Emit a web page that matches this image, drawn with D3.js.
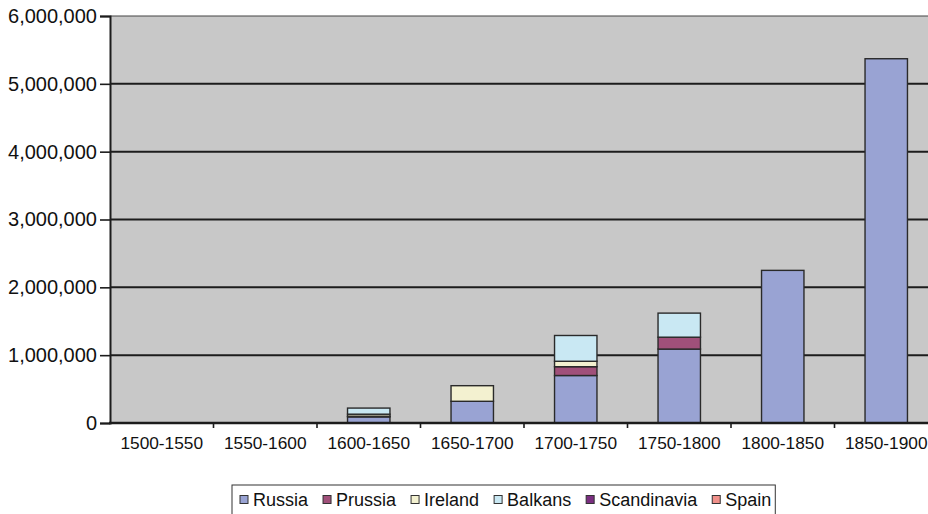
<!DOCTYPE html>
<html>
<head>
<meta charset="utf-8">
<script src="https://cdn.jsdelivr.net/npm/d3@7"></script>
<style>
  body { margin: 0; background: #fff; }
  svg { display: block; font-family: "Liberation Sans", Arial, sans-serif; }
</style>
</head>
<body>
<div id="chart"></div>
<script>
// data
var periods = ["1500-1550", "1550-1600", "1600-1650", "1650-1700", "1700-1750", "1750-1800", "1800-1850", "1850-1900"];
var russia      = [0, 0, 90000, 320000, 700000, 1090000, 2250000, 5370000];
var prussia     = [0, 0, 10000, 0, 130000, 175000, 0, 0];
var ireland     = [0, 0, 30000, 230000, 80000, 0, 0, 0];
var balkans     = [0, 0, 90000, 0, 380000, 355000, 0, 0];
var scandinavia = [0, 0, 0, 0, 0, 0, 0, 0];
var spain       = [0, 0, 0, 0, 0, 0, 0, 0];
var seriesNames = ["Russia", "Prussia", "Ireland", "Balkans", "Scandinavia", "Spain"];
var yTicks = [0, 1000000, 2000000, 3000000, 4000000, 5000000, 6000000];

var colors = ["#99a3d3", "#a0507a", "#f3f1d0", "#c9e8f3", "#7a2e80", "#f0908a"];

var svgWidth = 928;
var svgHeight = 514;
var plot = { left: 110, top: 16, right: 938, bottom: 423 };

var svg = d3.select("#chart")
  .append("svg")
  .attr("width", svgWidth)
  .attr("height", svgHeight);

// build table for the stack
var table = periods.map(function(p, i) {
  return {
    period: p,
    Russia: russia[i], Prussia: prussia[i], Ireland: ireland[i],
    Balkans: balkans[i], Scandinavia: scandinavia[i], Spain: spain[i]
  };
});
var stacked = d3.stack().keys(seriesNames)(table);

var x = d3.scaleBand()
  .domain(periods)
  .range([plot.left, plot.right])
  .padding(0);

var y = d3.scaleLinear()
  .domain([0, 6000000])
  .range([plot.bottom, plot.top]);

// plot background
svg.append("rect")
  .attr("x", plot.left)
  .attr("y", plot.top)
  .attr("width", plot.right - plot.left)
  .attr("height", plot.bottom - plot.top)
  .attr("fill", "#c8c8c8");

// gridlines
svg.append("g")
  .selectAll("line")
  .data(yTicks.filter(function(d) { return d > 0 && d < 6000000; }))
  .enter()
  .append("line")
  .attr("x1", plot.left)
  .attr("x2", plot.right)
  .attr("y1", function(d) { return y(d); })
  .attr("y2", function(d) { return y(d); })
  .attr("stroke", "#1c1c1c")
  .attr("stroke-width", 2);

// top border
svg.append("line")
  .attr("x1", plot.left).attr("x2", plot.right)
  .attr("y1", y(6000000)).attr("y2", y(6000000))
  .attr("stroke", "#444")
  .attr("stroke-width", 1.2);

// bars
var barW = x.bandwidth() * 0.41;
svg.append("g")
  .selectAll("g")
  .data(stacked)
  .enter()
  .append("g")
  .attr("fill", function(d, i) { return colors[i]; })
  .selectAll("rect")
  .data(function(d) { return d.filter(function(s) { return s[1] - s[0] > 0; }); })
  .enter()
  .append("rect")
  .attr("x", function(d) { return x(d.data.period) + (x.bandwidth() - barW) / 2; })
  .attr("y", function(d) { return y(d[1]); })
  .attr("width", barW)
  .attr("height", function(d) { return y(d[0]) - y(d[1]); })
  .attr("stroke", "#2a2a2a")
  .attr("stroke-width", 1.4);

// y axis
var leftAxis = d3.axisLeft(y)
  .tickValues(yTicks)
  .tickFormat(d3.format(","))
  .tickSize(10)
  .tickPadding(3);

var yAxis = svg.append("g")
  .attr("transform", "translate(" + plot.left + ",0)")
  .call(leftAxis);
yAxis.select(".domain").attr("stroke", "#1c1c1c").attr("stroke-width", 2);
yAxis.selectAll(".tick line").attr("stroke", "#1c1c1c").attr("stroke-width", 1.6);
yAxis.selectAll("text")
  .attr("fill", "#111")
  .style("font-size", "20px")
  .style("font-family", "'Liberation Sans', Arial, sans-serif");

// x axis: labels at centres, ticks at category boundaries
var bottomAxis = d3.axisBottom(x).tickSize(0).tickPadding(14);
var xAxis = svg.append("g")
  .attr("transform", "translate(0," + plot.bottom + ")")
  .call(bottomAxis);
xAxis.select(".domain").remove();
xAxis.selectAll("text")
  .attr("fill", "#111")
  .style("font-size", "17.3px")
  .style("font-family", "'Liberation Sans', Arial, sans-serif");

svg.append("g")
  .selectAll("line")
  .data(periods.slice(1))
  .enter()
  .append("line")
  .attr("x1", function(d) { return x(d); })
  .attr("x2", function(d) { return x(d); })
  .attr("y1", plot.bottom)
  .attr("y2", plot.bottom + 5)
  .attr("stroke", "#1c1c1c")
  .attr("stroke-width", 1.6);

svg.append("line")
  .attr("x1", plot.left - 1).attr("x2", plot.right)
  .attr("y1", plot.bottom).attr("y2", plot.bottom)
  .attr("stroke", "#1c1c1c")
  .attr("stroke-width", 2.5);

// legend
var legend = svg.append("g");
var legendBox = legend.append("rect")
  .attr("y", 485)
  .attr("height", 40)
  .attr("fill", "#fff")
  .attr("stroke", "#333")
  .attr("stroke-width", 1);

var gap = 15;
var cursor = 0;
var items = legend.append("g");
seriesNames.forEach(function(name, i) {
  var item = items.append("g").attr("transform", "translate(" + cursor + ",0)");
  item.append("rect")
    .attr("x", 0)
    .attr("y", 495.5)
    .attr("width", 8)
    .attr("height", 8)
    .attr("fill", colors[i])
    .attr("stroke", "#333")
    .attr("stroke-width", 1);
  var t = item.append("text")
    .attr("x", 13)
    .attr("y", 506)
    .attr("fill", "#111")
    .style("font-size", "18px")
    .text(name);
  cursor += 13 + t.node().getComputedTextLength() + gap;
});
var legendLeft = 232;
var legendW = cursor - gap + 12;
items.attr("transform", "translate(" + (legendLeft + 8) + ",0)");
legendBox.attr("x", legendLeft).attr("width", legendW);
</script>
</body>
</html>
